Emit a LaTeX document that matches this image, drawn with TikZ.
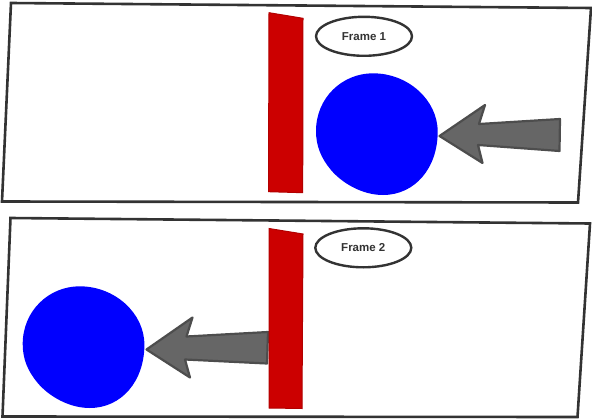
\documentclass[tikz,border=0pt]{standalone}
\usepackage{fontspec}
\setmainfont{Liberation Sans}
\usetikzlibrary{shapes.geometric}
\definecolor{framegray}{HTML}{333333}
\definecolor{arrowfill}{HTML}{666666}
\definecolor{arrowline}{HTML}{4D4D4D}
\definecolor{wallfill}{HTML}{CC0000}
\definecolor{wallline}{HTML}{B20000}
\definecolor{ballblue}{HTML}{0000FF}
\tikzset{
  framebox/.style={draw=framegray, line width=2.6pt, line join=miter},
  wall/.style={fill=wallfill, draw=wallline, line width=1pt},
  ball/.style={fill=ballblue, draw=none},
  bigarrow/.style={fill=arrowfill, draw=arrowline, line width=2.2pt, line join=round},
  label/.style={ellipse, draw=framegray, line width=2.4pt, fill=white,
    minimum width=96pt, minimum height=39pt, inner sep=0pt,
    font=\fontsize{11.5}{12}\selectfont\bfseries, text=framegray}
}
\newcommand{\ballpath}{(316,131) .. controls (316,98) and (342,73.3) .. (373,73.3) .. controls (408,73.3) and (437.7,100) .. (437.7,131.7) .. controls (437.7,168) and (415,195) .. (383,195) .. controls (362,195) and (342,183) .. (331,170) .. controls (321,158) and (316,146) .. (316,131) -- cycle}
\begin{document}
\begin{tikzpicture}[x=1pt,y=-1pt]
\useasboundingbox (0,0) rectangle (592,420);
% Frame 1
\draw[framebox] (11,3) -- (591,8) -- (578,202.5) -- (2,201.5) -- cycle;
\fill[ball] \ballpath;
\draw[bigarrow] (439.5,136) -- (485,105) -- (479,124) -- (560,119) -- (559.5,151) -- (478,145) -- (482.5,163) -- cycle;
\draw[wall] (269,12.7) -- (303,18.3) -- (302.7,192.7) -- (268.5,191.7) -- cycle;
\node[label] (f1) at (364,36.3) {Frame 1};
% Frame 2
\draw[framebox] (10.5,218) -- (590,223.5) -- (577.5,417) -- (2.5,416.5) -- cycle;
\begin{scope}[shift={(-293.3,213)}]
\fill[ball] \ballpath;
\end{scope}
\draw[bigarrow] (146.5,349.5) -- (192.5,317.5) -- (186.5,336.5) -- (268,332) -- (267,363.5) -- (185,359.5) -- (190,377.5) -- cycle;
\draw[wall] (269,228.5) -- (303,234) -- (302,408.5) -- (269,408) -- cycle;
\node[label] (f2) at (363.3,247.8) {Frame 2};
\end{tikzpicture}
\end{document}
